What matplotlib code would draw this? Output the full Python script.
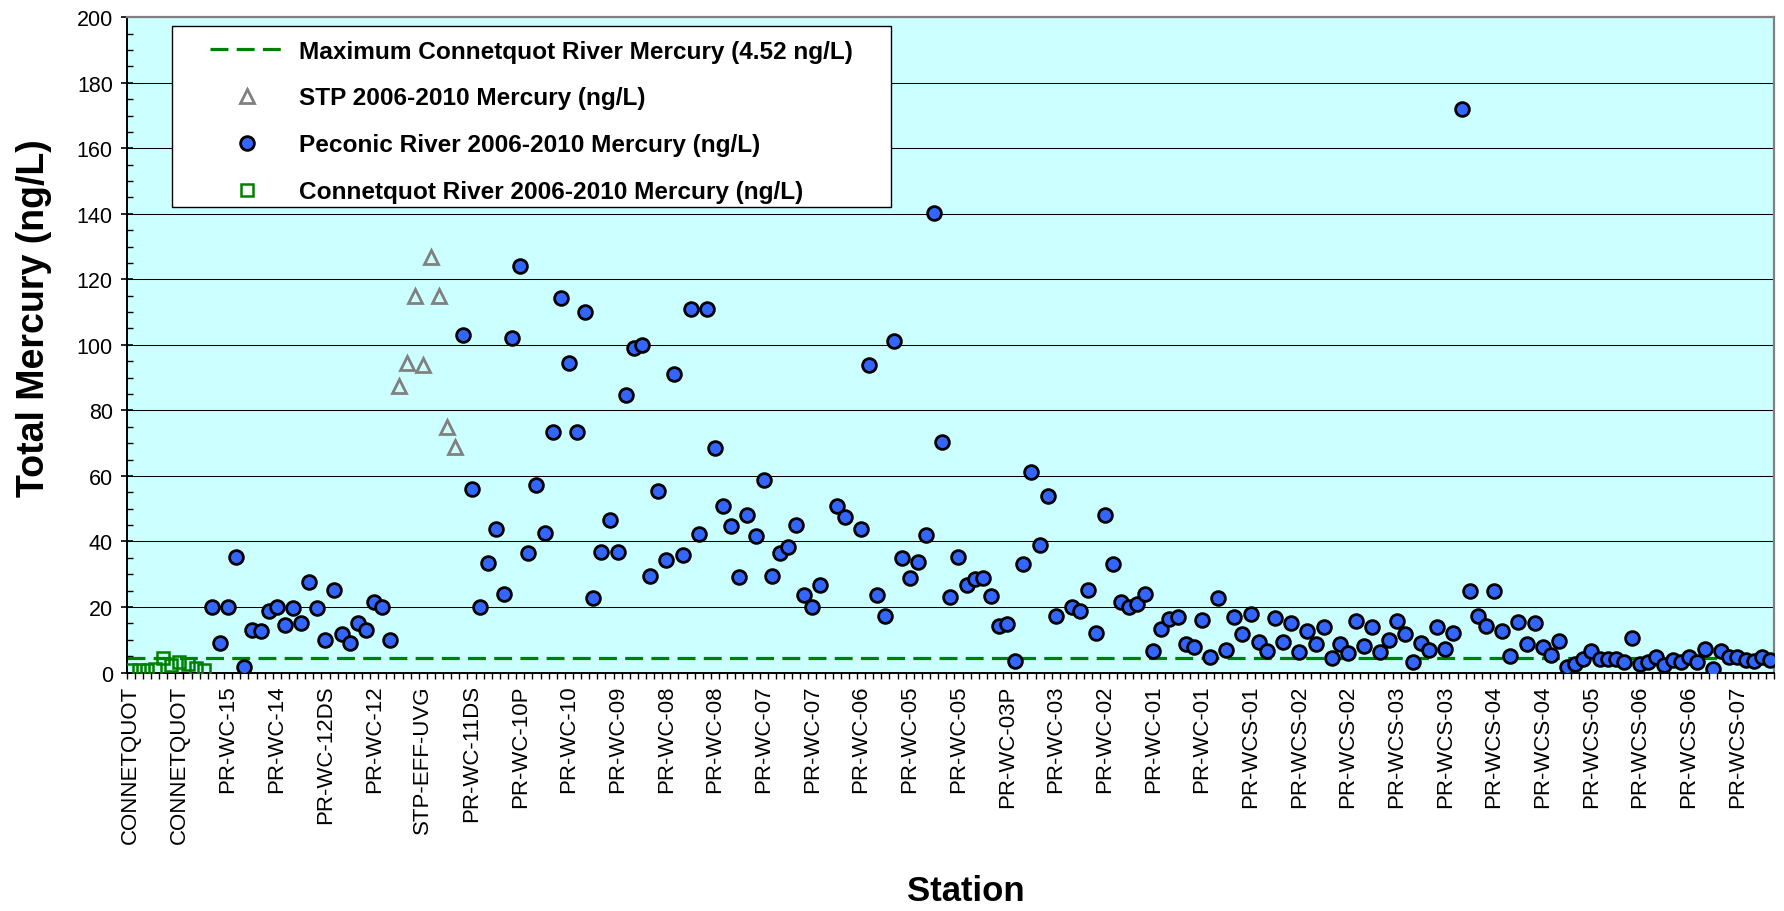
import numpy as np
import matplotlib
matplotlib.use("Agg")
import matplotlib.pyplot as plt
from matplotlib.patches import Rectangle
from matplotlib.ticker import MultipleLocator, FixedLocator

plt.rcParams["font.family"] = ["Liberation Sans", "DejaVu Sans"]

# ── data ──
CONNETQUOT_MAX = 4.52          # ng/L, dashed reference line
N_CATEGORIES = 203             # one category per sample
LABEL_EVERY = 6                # Excel shows every 6th station name

STATION_LABELS = [
    "CONNETQUOT", "CONNETQUOT", "PR-WC-15", "PR-WC-14", "PR-WC-12DS", "PR-WC-12",
    "STP-EFF-UVG", "PR-WC-11DS", "PR-WC-10P", "PR-WC-10", "PR-WC-09", "PR-WC-08",
    "PR-WC-08", "PR-WC-07", "PR-WC-07", "PR-WC-06", "PR-WC-05", "PR-WC-05",
    "PR-WC-03P", "PR-WC-03", "PR-WC-02", "PR-WC-01", "PR-WC-01", "PR-WCS-01",
    "PR-WCS-02", "PR-WCS-02", "PR-WCS-03", "PR-WCS-03", "PR-WCS-04", "PR-WCS-04",
    "PR-WCS-05", "PR-WCS-06", "PR-WCS-06", "PR-WCS-07",
]

# Connetquot River, categories 0-9
CONNETQUOT_START = 0
CONNETQUOT_HG = [0.9, 0.9, 0.9, 1.0, 4.52, 2.2, 3.1, 2.5, 1.3, 0.9]

# STP effluent, categories 33-40
STP_START = 33
STP_HG = [87.3, 94.5, 114.8, 93.9, 126.8, 114.8, 74.8, 68.9]

# Peconic River, categories 10-202 (None = no Peconic sample)
PECONIC_START = 10
PECONIC_HG = [
    20.1, 9.1, 20.0, 35.2, 1.7, 12.9, 12.7, 18.9, 20.1, 14.5, 19.6, 15.0,
    27.6, 19.6, 10.0, 25.1, 11.8, 8.9, 15.2, 13.1, 21.5, 20.0, 9.8,
    None, None, None, None, None, None, None, None,
    103.1, 56.1, 20.0, 33.4, 43.7, 23.9, 102.2, 124.1, 36.6, 57.1, 42.6, 73.5,
    114.2, 94.5, 73.5, 110.1, 22.6, 36.9, 46.7, 36.9, 84.7, 98.9, 100.1, 29.4,
    55.3, 34.2, 91.1, 36.0, 111.1, 42.2, 111.1, 68.4, 50.8, 44.6, 29.1, 48.2,
    41.7, 58.7,
    29.5, 36.6, 38.2, 44.9, 23.7, 20.1, 26.7, None, 50.9, 47.6, None,
    43.9, 93.8, 23.7, 17.2, 101.2, 35.1, 28.7, 33.8, 41.9, 140.2, 70.4, 23.0,
    35.4, 26.7, 28.4, 28.9, 23.5, 14.1, 14.8, 3.4, 33.1, 61.1, 39.0, 53.8,
    17.2, None, 19.9, 18.9, 25.3, 12.1,
    48.0, 33.0, 21.5, 20.0, 20.9, 23.9, 6.7, 13.3, 16.2, 16.8, 8.6, 7.7,
    16.1, 4.8, 22.8, 6.9, 16.8, 11.9, 17.8, 9.2, 6.7, 16.6, 9.2, 15.0,
    6.3, 12.6, 8.8, 13.8, 4.5, 8.6, 6.1, 15.6, 8.2, 13.8, 6.4, 9.9,
    15.8, 11.8, 3.2, 9.0, 7.0,
    13.8, 7.2, 12.0, 172.0,
    24.8, 17.4, 14.2, 24.8, 12.6, 5.0, 15.5, 8.8, 15.0, 7.7, 5.2, 9.6,
    1.7, 2.5, 4.2, 6.5, 4.0, 4.0, 4.2, 3.2, 10.4, 2.5, 3.2, 4.6,
    2.2, 3.7, 3.2, 4.6, 3.2, 7.2, 1.2, 6.6, 4.7, 4.7, 3.7, 3.5,
    4.6, 3.7,
]

# ── figure ──
fig = plt.figure(figsize=(17.84, 9.12), dpi=100)
ax = fig.add_axes([0.0710, 0.2615, 0.9234, 0.7185])
ax.set_facecolor("#CCFFFF")

ax.axhline(CONNETQUOT_MAX, color="#008000", linewidth=2.3,
           dashes=(5.6, 2.6), zorder=2,
           label="Maximum Connetquot River Mercury (4.52 ng/L)")

x_stp = np.arange(len(STP_HG)) + STP_START
ax.plot(x_stp, STP_HG, linestyle="none", marker="^", markersize=10.5,
        markerfacecolor="none", markeredgecolor="#808080", markeredgewidth=2.0,
        zorder=3, label="STP 2006-2010 Mercury (ng/L)")

x_pec = np.arange(len(PECONIC_HG)) + PECONIC_START
ax.plot(x_pec, np.array(PECONIC_HG, dtype=float), linestyle="none", marker="o",
        markersize=9.9, markerfacecolor="#3366FF", markeredgecolor="black",
        markeredgewidth=2.0, zorder=4,
        label="Peconic River 2006-2010 Mercury (ng/L)")

x_con = np.arange(len(CONNETQUOT_HG)) + CONNETQUOT_START
ax.plot(x_con, CONNETQUOT_HG, linestyle="none", marker="s", markersize=8.8,
        markerfacecolor="none", markeredgecolor="#008000", markeredgewidth=1.8,
        zorder=4, label="Connetquot River 2006-2010 Mercury (ng/L)")

# axes
ax.set_xlim(-0.5, N_CATEGORIES - 0.5)
ax.set_ylim(0, 200)
ax.yaxis.set_major_locator(MultipleLocator(20))
ax.yaxis.set_minor_locator(MultipleLocator(5))
ax.grid(axis="y", which="major", color="black", linewidth=0.75, zorder=1)
ax.set_axisbelow(True)

label_pos = np.arange(len(STATION_LABELS)) * LABEL_EVERY
ax.xaxis.set_major_locator(FixedLocator(label_pos))
ax.set_xticklabels(STATION_LABELS, rotation=90, fontsize=16)
ax.xaxis.set_minor_locator(FixedLocator(np.arange(N_CATEGORIES + 1) - 0.5))
ax.tick_params(axis="x", which="major", length=0, pad=8.5)
ax.tick_params(axis="x", which="minor", direction="out", length=4, width=1)
ax.tick_params(axis="y", which="major", direction="inout", length=8, width=1.2,
               labelsize=15.5, pad=6)
ax.tick_params(axis="y", which="minor", direction="in", length=4, width=1)

for side in ("top", "right"):
    ax.spines[side].set_color("#808080")
    ax.spines[side].set_linewidth(1.6)
for side in ("left", "bottom"):
    ax.spines[side].set_color("black")
    ax.spines[side].set_linewidth(1.4)

# legend box drawn as a patch, entries laid over it
ax.add_patch(Rectangle((0.0273, 0.7108), 0.4368, 0.2762, transform=ax.transAxes,
                       facecolor="white", edgecolor="black", linewidth=1.0,
                       zorder=5))
leg = ax.legend(loc="upper left", bbox_to_anchor=(0.0506, 0.966),
                frameon=False, borderpad=0, borderaxespad=0,
                handlelength=3.0, handletextpad=0.62, labelspacing=0.98,
                prop={"weight": "bold", "size": 17.6})
leg.set_zorder(6)

fig.text(0.019, 0.651, "Total Mercury (ng/L)", rotation=90, fontsize=27,
         fontweight="bold", ha="center", va="center")
fig.text(0.5415, 0.022, "Station", fontsize=25, fontweight="bold",
         ha="center", va="center")

fig.savefig("out.png", dpi=100)
